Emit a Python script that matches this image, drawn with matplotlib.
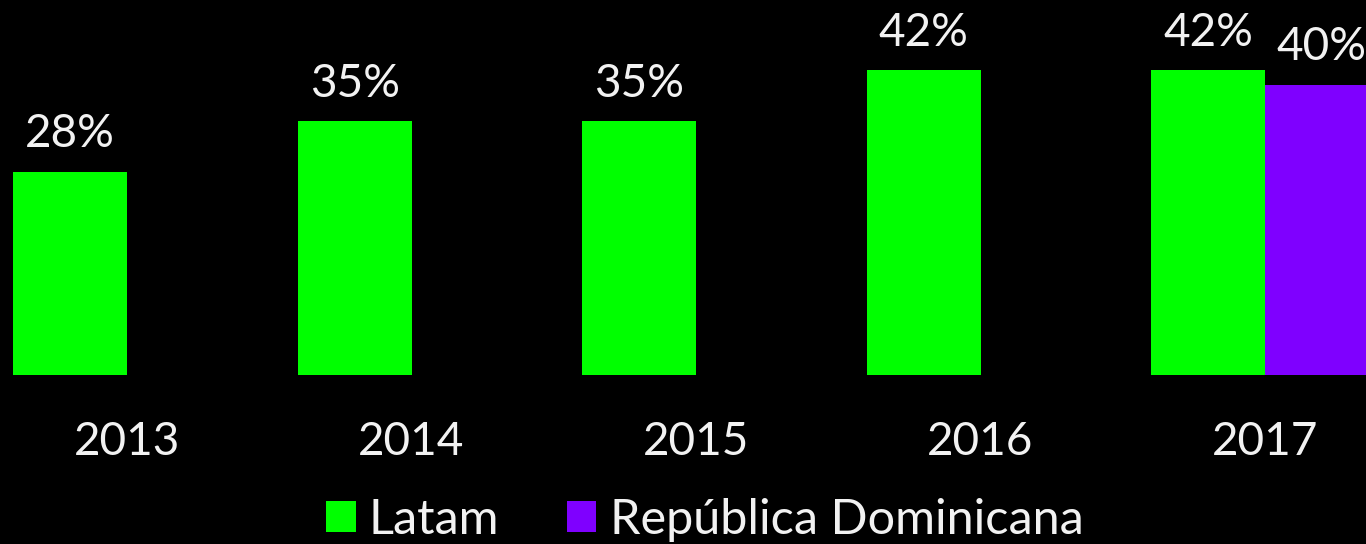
import matplotlib
matplotlib.use('Agg')
import matplotlib.pyplot as plt
import numpy as np

years = ['2013', '2014', '2015', '2016', '2017']
latam = [28, 35, 35, 42, 42]
rep_dom_years = ['2017']
rep_dom = [40]

green = '#00ff00'
purple = '#7f00ff'
txt = '#f2f2f2'

plt.rcParams['font.family'] = ['Lato', 'DejaVu Sans']

fig = plt.figure(figsize=(13.66, 5.44), dpi=100, facecolor='black')
ax = fig.add_axes([0, 0.3107, 1, 0.6893])
ax.set_facecolor('black')

x = np.arange(len(years))
w = 0.4
xr = np.array([years.index(y) for y in rep_dom_years])

b1 = ax.bar(x - w / 2, latam, w, color=green, label='Latam')
b2 = ax.bar(xr + w / 2, rep_dom, w, color=purple, label='República Dominicana')

for bars, vals in ((b1, latam), (b2, rep_dom)):
    for b, v in zip(bars, vals):
        ax.text(b.get_x() + b.get_width() / 2, v + 2.3, '%d%%' % v,
                ha='center', va='bottom', color=txt, fontsize=33)

ax.set_xlim(-0.4464, 4.355)
ax.set_ylim(0, 51.72)
for s in ax.spines.values():
    s.set_visible(False)
ax.set_yticks([])
ax.set_xticks(x)
ax.set_xticklabels(years, color=txt, fontsize=33)
ax.tick_params(axis='x', length=0, pad=33)

leg = fig.legend(handles=[b1, b2], loc='center', bbox_to_anchor=(0.516, 0.045),
                 ncol=2, frameon=False, fontsize=35, handlelength=0.6,
                 handleheight=0.6, handletextpad=0.27, columnspacing=1.4)
for t in leg.get_texts():
    t.set_color(txt)

fig.savefig('out.png', dpi=100, facecolor='black')
